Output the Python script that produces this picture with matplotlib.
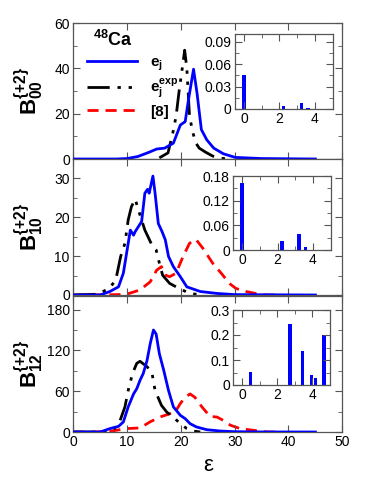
import matplotlib
matplotlib.use('Agg')
import matplotlib.pyplot as plt
from matplotlib.ticker import MultipleLocator

plt.rcParams['font.family'] = ['Liberation Sans', 'DejaVu Sans']
plt.rcParams['mathtext.fontset'] = 'custom'
plt.rcParams['mathtext.rm'] = 'Liberation Sans'
plt.rcParams['mathtext.bf'] = 'Liberation Sans:bold'
plt.rcParams['mathtext.it'] = 'Liberation Sans:italic'

# ---- main curves ----
# B00
b00_ej_x = [0, 8, 10, 12, 14, 15.5, 17, 18.6, 19.9, 20.8, 21.4, 22.35, 23, 23.8, 24.8, 26.1, 27.9, 30.1, 35, 45]
b00_ej_y = [0, 0, 0.2, 1.1, 2.9, 4.4, 4.8, 7, 15, 16.5, 26, 39.6, 29, 13, 8.5, 4.8, 2.3, 0.7, 0.2, 0]
b00_exp_x = [16, 17.6, 18.5, 19.1, 19.7, 20.3, 20.7, 21.1, 21.6, 22.2, 22.8, 23.4, 24.6, 25.9, 27.1, 29]
b00_exp_y = [0.5, 2.7, 11.5, 18.8, 30.6, 40.8, 48, 40, 19, 11.8, 7, 4.8, 3, 1.3, 0.4, 0]

# B10
b10_ej_x = [0, 5.0, 6.8, 8.4, 9.3, 9.9, 10.6, 11.2, 11.5, 12.1, 12.7, 13.3, 13.8, 14.1, 14.8,
            15.2, 15.8, 16.5, 17.1, 17.7, 18.6, 19.9, 21.1, 23.6, 26.7, 30, 45]
b10_ej_y = [0, 0, 0.9, 2.1, 5.6, 10.7, 16.7, 15.4, 16.3, 17.6, 18.9, 26.2, 27.2, 26.2, 30.6,
            26.2, 18.4, 16.3, 14.2, 9.9, 7.3, 4.7, 2.1, 0.9, 0.4, 0.1, 0]
b10_exp_x = [0, 4.5, 6.7, 7.9, 8.8, 9.6, 10.2, 10.8, 11.5, 12.1, 13.3, 14.6, 15.4, 16.0, 16.6,
             17.9, 19.1, 21.6, 24]
b10_exp_y = [0, 0.2, 1.7, 3.9, 9.9, 13.3, 19.3, 22.7, 24.7, 21.9, 16.7, 12.9, 11.6, 8.2, 5.1,
             3.0, 2.1, 0.4, 0]
b10_ref_x = [0, 8.1, 9.9, 12.4, 14.3, 15.5, 16.4, 17.2, 17.9, 19.1, 20.4, 21.6, 22.8, 24.1,
             25.9, 27.5, 29.0, 30.2, 32.1, 33.9, 35.7, 37.5]
b10_ref_y = [0, 0.1, 0.2, 1.3, 3.4, 6.4, 7.3, 5.1, 4.7, 5.6, 9.9, 13.3, 14.3, 12.0,
             8.2, 5.6, 3.0, 1.7, 0.9, 0.4, 0, 0]

# B12
b12_ej_x = [0, 5, 6.8, 8.4, 9.3, 10.2, 11.2, 11.8, 12.4, 13.0, 13.7, 14.3, 14.9, 15.4, 16.0,
            16.8, 17.7, 18.6, 19.9, 20.8, 21.7, 22.9, 24.8, 27.2, 29.8, 35, 45]
b12_ej_y = [0, 0, 5, 8.3, 14.7, 36.8, 56, 63.7, 76, 86, 105, 130, 150, 144, 115,
            91, 61, 37, 24.5, 19.6, 12.3, 7.4, 3.4, 1.5, 0.5, 0.1, 0]
b12_exp_x = [0, 5, 7.4, 8.7, 9.6, 10.2, 11.0, 11.8, 12.4, 13.7, 14.6, 15.2, 16.4, 17.4,
             18.6, 19.9, 21.1, 22.3, 23.6]
b12_exp_y = [0, 0, 2.5, 17, 37, 61, 86, 101, 104, 96, 88, 61, 39, 29,
             22, 12, 5, 1.5, 0]
b12_ref_x = [0, 3.7, 6.8, 9.9, 12.4, 14.3, 16.1, 18.0, 18.9, 19.9, 20.8, 21.7, 22.6, 23.9,
             25.4, 26.7, 27.9, 29.2, 31.0, 33.5, 36.0, 38.5]
b12_ref_y = [0, 0, 1, 5, 6, 15, 22, 27, 29, 42, 51, 56, 51, 37,
             23, 22, 17, 10, 5, 2.5, 0, 0]

# ---- inset bars ----
b00_bar_x = [0, 2.23, 3.24, 3.6]
b00_bar_h = [0.045, 0.004, 0.008, 0.001]
b10_bar_x = [0, 2.25, 3.2, 3.58]
b10_bar_h = [0.163, 0.022, 0.040, 0.008]
b12_bar_x = [0.49, 2.72, 3.44, 3.96, 4.19, 4.66]
b12_bar_h = [0.053, 0.245, 0.135, 0.040, 0.028, 0.200]

ylabels = [r'$\mathbf{B}_{\mathbf{00}}^{\mathbf{\{+2\}}}$',
           r'$\mathbf{B}_{\mathbf{10}}^{\mathbf{\{+2\}}}$',
           r'$\mathbf{B}_{\mathbf{12}}^{\mathbf{\{+2\}}}$']

W, H = 383, 495
fig = plt.figure(figsize=(W / 100, H / 100), dpi=100)

spine_c = '#555555'
dashdotdot = (0, (8, 2.8, 1.2, 2.8, 1.2, 2.8))


def style(ax, fs=9):
    for s in ax.spines.values():
        s.set_color(spine_c)
        s.set_linewidth(0.9)
    ax.tick_params(which='both', direction='in', top=True, right=True,
                   labelsize=fs, color=spine_c, pad=2.5)
    ax.tick_params(which='major', length=5)
    ax.tick_params(which='minor', length=3)


panels = [
    dict(rect=[73.3, 23, 342.3, 159], ylim=(0, 60), ymaj=20, ymin=10,
         ej=(b00_ej_x, b00_ej_y), exp=(b00_exp_x, b00_exp_y), ref=None,
         inset=[235, 34.3, 332.7, 109], iylim=(0, 0.1), iymaj=0.03, iymin=0.015,
         bars=(b00_bar_x, b00_bar_h)),
    dict(rect=[73.3, 159, 342.3, 295], ylim=(0, 35), ymaj=10, ymin=5,
         ej=(b10_ej_x, b10_ej_y), exp=(b10_exp_x, b10_exp_y), ref=(b10_ref_x, b10_ref_y),
         inset=[233.3, 176, 330.7, 250], iylim=(0, 0.18), iymaj=0.06, iymin=0.03,
         bars=(b10_bar_x, b10_bar_h)),
    dict(rect=[73.3, 296, 342.3, 432], ylim=(0, 200), ymaj=60, ymin=30,
         ej=(b12_ej_x, b12_ej_y), exp=(b12_exp_x, b12_exp_y), ref=(b12_ref_x, b12_ref_y),
         inset=[233.3, 310, 330, 385], iylim=(0, 0.3), iymaj=0.1, iymin=0.05,
         bars=(b12_bar_x, b12_bar_h)),
]

for i, p in enumerate(panels):
    x0, y0, x1, y1 = p['rect']
    ax = fig.add_axes([x0 / W, 1 - y1 / H, (x1 - x0) / W, (y1 - y0) / H])
    ax.plot(*p['ej'], color='#0000ff', lw=2.0, label=r'$\mathbf{e}_{\mathbf{j}}$', zorder=3)
    ax.plot(*p['exp'], color='black', lw=2.0, linestyle=dashdotdot,
            label=r'$\mathbf{e}_{\mathbf{j}}^{\mathbf{exp}}$', zorder=2)
    if p['ref'] is not None:
        ax.plot(*p['ref'], color='#ff0000', lw=2.0, linestyle=(0, (4, 2.5)), zorder=1)
    ax.set_xlim(0, 50)
    ax.set_ylim(*p['ylim'])
    ax.xaxis.set_major_locator(MultipleLocator(10))
    ax.yaxis.set_major_locator(MultipleLocator(p['ymaj']))
    ax.yaxis.set_minor_locator(MultipleLocator(p['ymin']))
    style(ax, fs=10)
    ax.set_ylabel(ylabels[i], fontsize=16)
    ax.yaxis.set_label_coords(-0.1, 0.5)
    if i < 2:
        ax.tick_params(labelbottom=False)
    else:
        ax.set_xlabel('ε', fontsize=16)
    if i == 0:
        ax.plot([], [], color='#ff0000', lw=2.0, linestyle=(0, (4, 2.5)), label='[8]')
        ax.legend(loc='upper left', bbox_to_anchor=(0.0, 0.86), frameon=False,
                  handlelength=3.3, fontsize=11, labelspacing=0.25,
                  prop={'weight': 'bold', 'size': 11})
        ax.text(0.075, 0.83, r'$\mathbf{^{48}Ca}$', transform=ax.transAxes,
                fontsize=13, fontweight='bold')

    # inset
    a, b, c, d = p['inset']
    ins = fig.add_axes([a / W, 1 - d / H, (c - a) / W, (d - b) / H])
    ins.bar(p['bars'][0], p['bars'][1], width=0.19, color='#0000ff')
    ins.set_xlim(-0.5, 5)
    ins.set_ylim(*p['iylim'])
    ins.xaxis.set_major_locator(MultipleLocator(2))
    ins.xaxis.set_minor_locator(MultipleLocator(1))
    ins.yaxis.set_major_locator(MultipleLocator(p['iymaj']))
    ins.yaxis.set_minor_locator(MultipleLocator(p['iymin']))
    ins.yaxis.set_major_formatter(plt.FuncFormatter(lambda v, pos: '0' if abs(v) < 1e-9 else f'{v:g}'))
    style(ins, fs=10)

fig.savefig('out.png', dpi=100)
